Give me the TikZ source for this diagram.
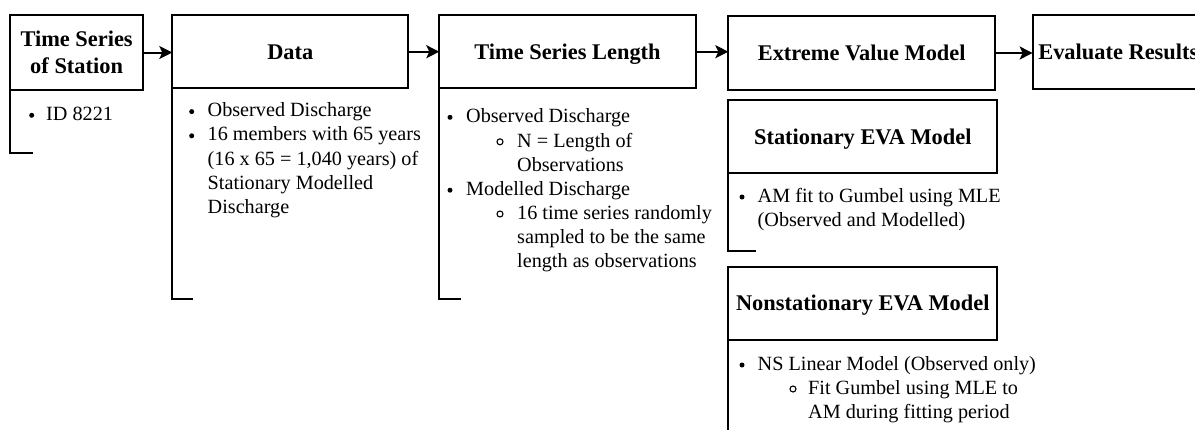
\documentclass[tikz,border=0pt]{standalone}
\usepackage{fontspec}
\setmainfont{Liberation Serif}
\usetikzlibrary{arrows.meta}

\begin{document}
\begin{tikzpicture}[x=1pt,y=-1pt,
  hdr/.style={draw=black,line width=2pt,outer sep=0pt,inner sep=0pt,
    font=\fontsize{22.4}{27.3}\selectfont\bfseries,align=center},
  one/.style={text height=15.2pt,text depth=0pt},
  body/.style={font=\fontsize{20.2}{24.2}\selectfont,inner sep=0pt,
    anchor=north west,align=left},
  flow/.style={line width=2pt,-{Stealth[length=13pt,width=13pt,inset=3pt]}},
  rail/.style={line width=2pt},
  dot/.style={circle,fill=black,inner sep=0pt,minimum size=5pt},
  ring/.style={circle,draw=black,line width=1.1pt,inner sep=0pt,minimum size=6pt},
]
\useasboundingbox (0,0) rectangle (1195,429);
\clip (0,0) rectangle (1195,429);

% header boxes of the pipeline
\node[hdr,minimum width=133pt,minimum height=75pt] (stn) at (76.6,52.5)
  {Time Series\\of Station};
\node[hdr,one,minimum width=236pt,minimum height=73.3pt] (dat) at (290.3,51.7) {Data};
\node[hdr,one,minimum width=256.4pt,minimum height=73.3pt] (len) at (567.5,51.7) {Time Series Length};
\node[hdr,one,minimum width=266.7pt,minimum height=74pt] (evm) at (861.7,53) {Extreme Value Model};
\node[hdr,one,minimum width=171.3pt,minimum height=74.3pt] (res) at (1118.3,51.9) {Evaluate Results};
\node[hdr,one,minimum width=269pt,minimum height=73.3pt] (sta) at (862.8,136.7) {Stationary EVA Model};
\node[hdr,one,minimum width=269pt,minimum height=73.3pt] (nst) at (862.8,303.3) {Nonstationary EVA Model};

% flow arrows
\draw[flow] (stn.east) -- (stn.east -| dat.west);
\draw[flow] (dat.east) -- (dat.east -| len.west);
\draw[flow] (len.east) -- (len.east -| evm.west);
\draw[flow] (evm.east) -- (evm.east -| res.west);

% brackets below the headers
\draw[rail] (stn.south west) -- ++(0,63) -- ++(23,0);
\draw[rail] (dat.south west) -- ++(0,210.7) -- ++(21,0);
\draw[rail] (len.south west) -- ++(0,210.7) -- ++(21.7,0);
\draw[rail] (sta.south west) -- ++(0,77.4) -- ++(27.7,0);
\draw[rail] (nst.south west) -- ++(0,110);

% station
\node[dot] (b1) at (31.7,115.3) {};
\node[body] (t1) at (46,105) {\rule{0pt}{15pt}ID 8221};

% data
\node[dot] (b2) at (191.7,111.6) {};
\node[dot] (b3) at (191.7,135.8) {};
\node[body] (t2) at (207.5,101.5) {\rule{0pt}{15pt}Observed Discharge\\
  16 members with 65 years\\(16 x 65 = 1,040 years) of\\
  Stationary Modelled\\Discharge};

% time series length
\node[dot] (b4) at (450,117.3) {};
\node[body] (t3) at (466,107) {\rule{0pt}{15pt}Observed Discharge};
\node[ring] (r1) at (500,141.8) {};
\node[body] (t4) at (517,132) {\rule{0pt}{15pt}N = Length of\\Observations};
\node[dot] (b5) at (450,190.2) {};
\node[body] (t5) at (466,180) {\rule{0pt}{15pt}Modelled Discharge};
\node[ring] (r2) at (500,214) {};
\node[body] (t6) at (517,204) {\rule{0pt}{15pt}16 time series randomly\\
  sampled to be the same\\length as observations};

% stationary model
\node[dot] (b6) at (742,197) {};
\node[body] (t7) at (757.5,187) {\rule{0pt}{15pt}AM fit to Gumbel using MLE\\
  (Observed and Modelled)};

% nonstationary model
\node[dot] (b7) at (742,365) {};
\node[body] (t8) at (757.5,355) {\rule{0pt}{15pt}NS Linear Model (Observed only)};
\node[ring] (r3) at (793,389) {};
\node[body] (t9) at (808,379) {\rule{0pt}{15pt}Fit Gumbel using MLE to\\
  AM during fitting period};
\end{tikzpicture}
\end{document}
